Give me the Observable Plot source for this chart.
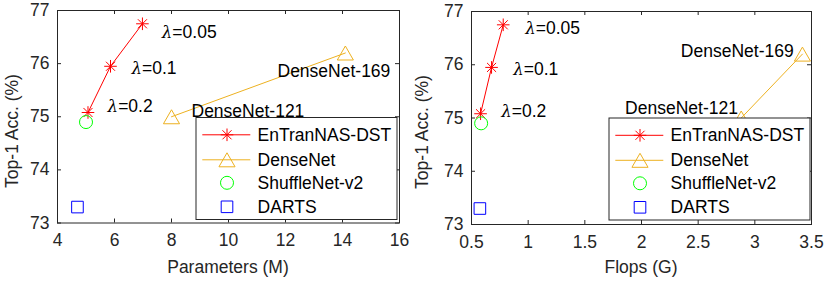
<!DOCTYPE html>
<html>
<head>
<meta charset="utf-8">
<script src="https://cdn.jsdelivr.net/npm/d3@7"></script>
<script src="https://cdn.jsdelivr.net/npm/@observablehq/plot@0.6"></script>
<style>
  html, body { margin: 0; padding: 0; background: #fff; }
  #c { display: flex; width: 830px; height: 283px; }
  #c svg { display: block; }
</style>
</head>
<body>
<div id="c"></div>
<script>
// ---------------- data ----------------
const methods = ["EnTranNAS-DST", "DenseNet", "ShuffleNet-v2", "DARTS"];
const lambdaLabels = ["λ=0.2", "λ=0.1", "λ=0.05"];
const entranParams = [5.07, 5.86, 6.98];
const entranFlops = [0.58, 0.677, 0.78];
const entranAcc = [75.08, 75.95, 76.75];
const densenetNames = ["DenseNet-121", "DenseNet-169"];
const densenetParams = [8.0, 14.1];
const densenetFlops = [2.88, 3.42];
const densenetAcc = [75.0, 76.2];
const shuffleParams = [5.0];
const shuffleFlops = [0.585];
const shuffleAcc = [74.9];
const dartsParams = [4.7];
const dartsFlops = [0.574];
const dartsAcc = [73.3];
const paramTicks = [4, 6, 8, 10, 12, 14, 16];
const flopTicks = [0.5, 1, 1.5, 2, 2.5, 3, 3.5];
const accTicks = [73, 74, 75, 76, 77];

// ---------------- styles ----------------
const AX = "#262626";
const C_RED = "#ff0000", C_ORANGE = "#EDB120", C_GREEN = "#00ff00", C_BLUE = "#0000ff";
const FONT = "'Liberation Sans', Arial, Helvetica, sans-serif";
const FS = 17.5;

// MATLAB-like marker symbols (size = pi r^2)
const starSym = {draw(ctx, size) {
  const r = Math.sqrt(size / Math.PI), d = r * 0.72;
  ctx.moveTo(-r, 0); ctx.lineTo(r, 0);
  ctx.moveTo(0, -r); ctx.lineTo(0, r);
  ctx.moveTo(-d, -d); ctx.lineTo(d, d);
  ctx.moveTo(-d, d); ctx.lineTo(d, -d);
}};
const triSym = {draw(ctx, size) {
  const r = Math.sqrt(size / Math.PI);
  ctx.moveTo(0, -r); ctx.lineTo(r * 1.15, r); ctx.lineTo(-r * 1.15, r); ctx.closePath();
}};
const circSym = {draw(ctx, size) {
  const r = Math.sqrt(size / Math.PI);
  ctx.moveTo(r, 0); ctx.arc(0, 0, r, 0, 2 * Math.PI);
}};
const sqSym = {draw(ctx, size) {
  const r = Math.sqrt(size / Math.PI);
  ctx.rect(-r, -r, 2 * r, 2 * r);
}};
const markerR = {star: 6.3, tri: 7, circ: 6.5, sq: 5.8};

function panel(cfg) {
  const W = 415, H = 283;
  const {mL, mR, mT, mB} = cfg;
  const plotH = H - mT - mB, plotW = W - mL - mR;
  const ent = entranAcc.map((a, i) => ({x: cfg.entX[i], y: a, label: lambdaLabels[i]}));
  const den = densenetAcc.map((a, i) => ({x: cfg.denX[i], y: a, label: densenetNames[i]}));
  const shu = shuffleAcc.map((a, i) => ({x: cfg.shuX[i], y: a}));
  const dar = dartsAcc.map((a, i) => ({x: cfg.darX[i], y: a}));

  const textMarks = [];
  ent.forEach((d, i) => {
    const o = cfg.lamOff[i];
    textMarks.push(Plot.text([d], {x: "x", y: "y", text: "label", textAnchor: "start", dx: o[0], dy: o[1], fill: "#000", fontSize: FS}));
  });
  den.forEach((d, i) => {
    const o = cfg.denOff[i];
    textMarks.push(Plot.text([d], {x: "x", y: "y", text: "label", textAnchor: o[2], dx: o[0], dy: o[1], fill: "#000", fontSize: FS}));
  });

  const chart = Plot.plot({
    width: W, height: H,
    marginLeft: mL, marginRight: mR, marginTop: mT, marginBottom: mB,
    style: {fontFamily: FONT, fontSize: FS + "px", color: AX, background: "#fff", overflow: "visible"},
    x: {domain: cfg.xDomain},
    y: {domain: [73, 77]},
    marks: [
      Plot.axisX(cfg.xTicks, {tickSize: 0, tickPadding: 11, label: null, tickFormat: d => String(d), fontSize: FS, fill: AX}),
      Plot.axisY(accTicks, {tickSize: 0, tickPadding: 8, label: null, tickFormat: d => String(d), fontSize: FS, fill: AX}),
      // inward ticks on all four sides
      Plot.ruleX(cfg.xTicks, {x: d => d, insetTop: plotH - 4, stroke: AX, strokeWidth: 1}),
      Plot.ruleX(cfg.xTicks, {x: d => d, insetBottom: plotH - 4, stroke: AX, strokeWidth: 1}),
      Plot.ruleY(accTicks, {y: d => d, insetRight: plotW - 4, stroke: AX, strokeWidth: 1}),
      Plot.ruleY(accTicks, {y: d => d, insetLeft: plotW - 4, stroke: AX, strokeWidth: 1}),
      Plot.frame({stroke: AX, strokeWidth: 1}),
      Plot.line(ent, {x: "x", y: "y", stroke: C_RED, strokeWidth: 1}),
      Plot.line(den, {x: "x", y: "y", stroke: C_ORANGE, strokeWidth: 1}),
      Plot.dot(ent, {x: "x", y: "y", symbol: starSym, r: markerR.star, stroke: C_RED, fill: "none", strokeWidth: 1}),
      Plot.dot(den, {x: "x", y: "y", symbol: triSym, r: markerR.tri, stroke: C_ORANGE, fill: "none", strokeWidth: 1}),
      Plot.dot(shu, {x: "x", y: "y", symbol: circSym, r: markerR.circ, stroke: C_GREEN, fill: "none", strokeWidth: 1}),
      Plot.dot(dar, {x: "x", y: "y", symbol: sqSym, r: markerR.sq, stroke: C_BLUE, fill: "none", strokeWidth: 1}),
      ...textMarks
    ]
  });

  const svg = d3.select(chart);
  // λ as italic serif glyph
  svg.selectAll("text").each(function () {
    const t = this.textContent;
    if (t.startsWith("λ")) {
      const el = d3.select(this);
      el.text(null);
      el.append("tspan").attr("font-family", "'DejaVu Serif', 'Liberation Serif', serif").attr("font-style", "italic").attr("font-size", (FS * 0.95) + "px").text("λ");
      el.append("tspan").text(t.slice(1));
    }
  });

  // axis labels
  svg.append("text").attr("transform", `translate(${cfg.yLabX},${cfg.yLabY}) rotate(-90)`)
    .attr("text-anchor", "middle").attr("dy", "0.35em").attr("fill", AX)
    .attr("font-family", FONT).attr("font-size", FS + "px").text("Top-1 Acc. (%)");
  svg.append("text").attr("x", mL + plotW / 2).attr("y", cfg.xLabY)
    .attr("text-anchor", "middle").attr("dy", "0.35em").attr("fill", AX)
    .attr("font-family", FONT).attr("font-size", FS + "px").text(cfg.xLabel);

  // legend
  const lw = 201, lh = 102;
  const lx = W - mR - cfg.legInsetR - lw, ly = H - mB - cfg.legInsetB - lh;
  const g = svg.append("g").attr("transform", `translate(${lx},${ly})`);
  g.append("rect").attr("width", lw).attr("height", lh).attr("fill", "#fff").attr("stroke", AX).attr("stroke-width", 1);
  const rows = [17.3, 42.3, 65.3, 89.3];
  const legSyms = [[starSym, markerR.star, C_RED, true], [triSym, markerR.tri, C_ORANGE, true], [circSym, markerR.circ, C_GREEN, false], [sqSym, markerR.sq, C_BLUE, false]];
  methods.forEach((m, i) => {
    const [sym, r, col, withLine] = legSyms[i];
    const yy = rows[i];
    if (withLine) g.append("line").attr("x1", 6.3).attr("x2", 54.3).attr("y1", yy).attr("y2", yy).attr("stroke", col).attr("stroke-width", 1);
    g.append("path").attr("d", d3.symbol(sym, Math.PI * r * r)()).attr("transform", `translate(31,${yy})`)
      .attr("fill", "none").attr("stroke", col).attr("stroke-width", 1);
    g.append("text").attr("x", 61.6).attr("y", yy).attr("dy", "0.35em").attr("fill", "#000")
      .attr("text-anchor", "start")
      .attr("font-family", FONT).attr("font-size", FS + "px").text(m);
  });
  return chart;
}

const c = document.getElementById("c");
c.appendChild(panel({
  mL: 57, mR: 16, mT: 10, mB: 60.5,
  xDomain: [4, 16], xTicks: paramTicks,
  entX: entranParams, denX: densenetParams, shuX: shuffleParams, darX: dartsParams,
  lamOff: [[19.6, -5.7], [21, 2.3], [19.4, 8.4]],
  denOff: [[20, -5.7, "start"], [45, 18.6, "end"]],
  yLabX: 12, yLabY: 131, xLabY: 267, xLabel: "Parameters (M)",
  legInsetR: 2, legInsetB: 3
}));
c.appendChild(panel({
  mL: 56, mR: 19, mT: 11, mB: 59,
  xDomain: [0.5, 3.5], xTicks: flopTicks,
  entX: entranFlops, denX: densenetFlops, shuX: shuffleFlops, darX: dartsFlops,
  lamOff: [[20.7, -2.4], [21.7, 2], [22, 4]],
  denOff: [[-3.3, -9.7, "end"], [-8.7, -3, "end"]],
  yLabX: 7, yLabY: 132, xLabY: 267, xLabel: "Flops (G)",
  legInsetR: 1, legInsetB: 4
}));
</script>
</body>
</html>
